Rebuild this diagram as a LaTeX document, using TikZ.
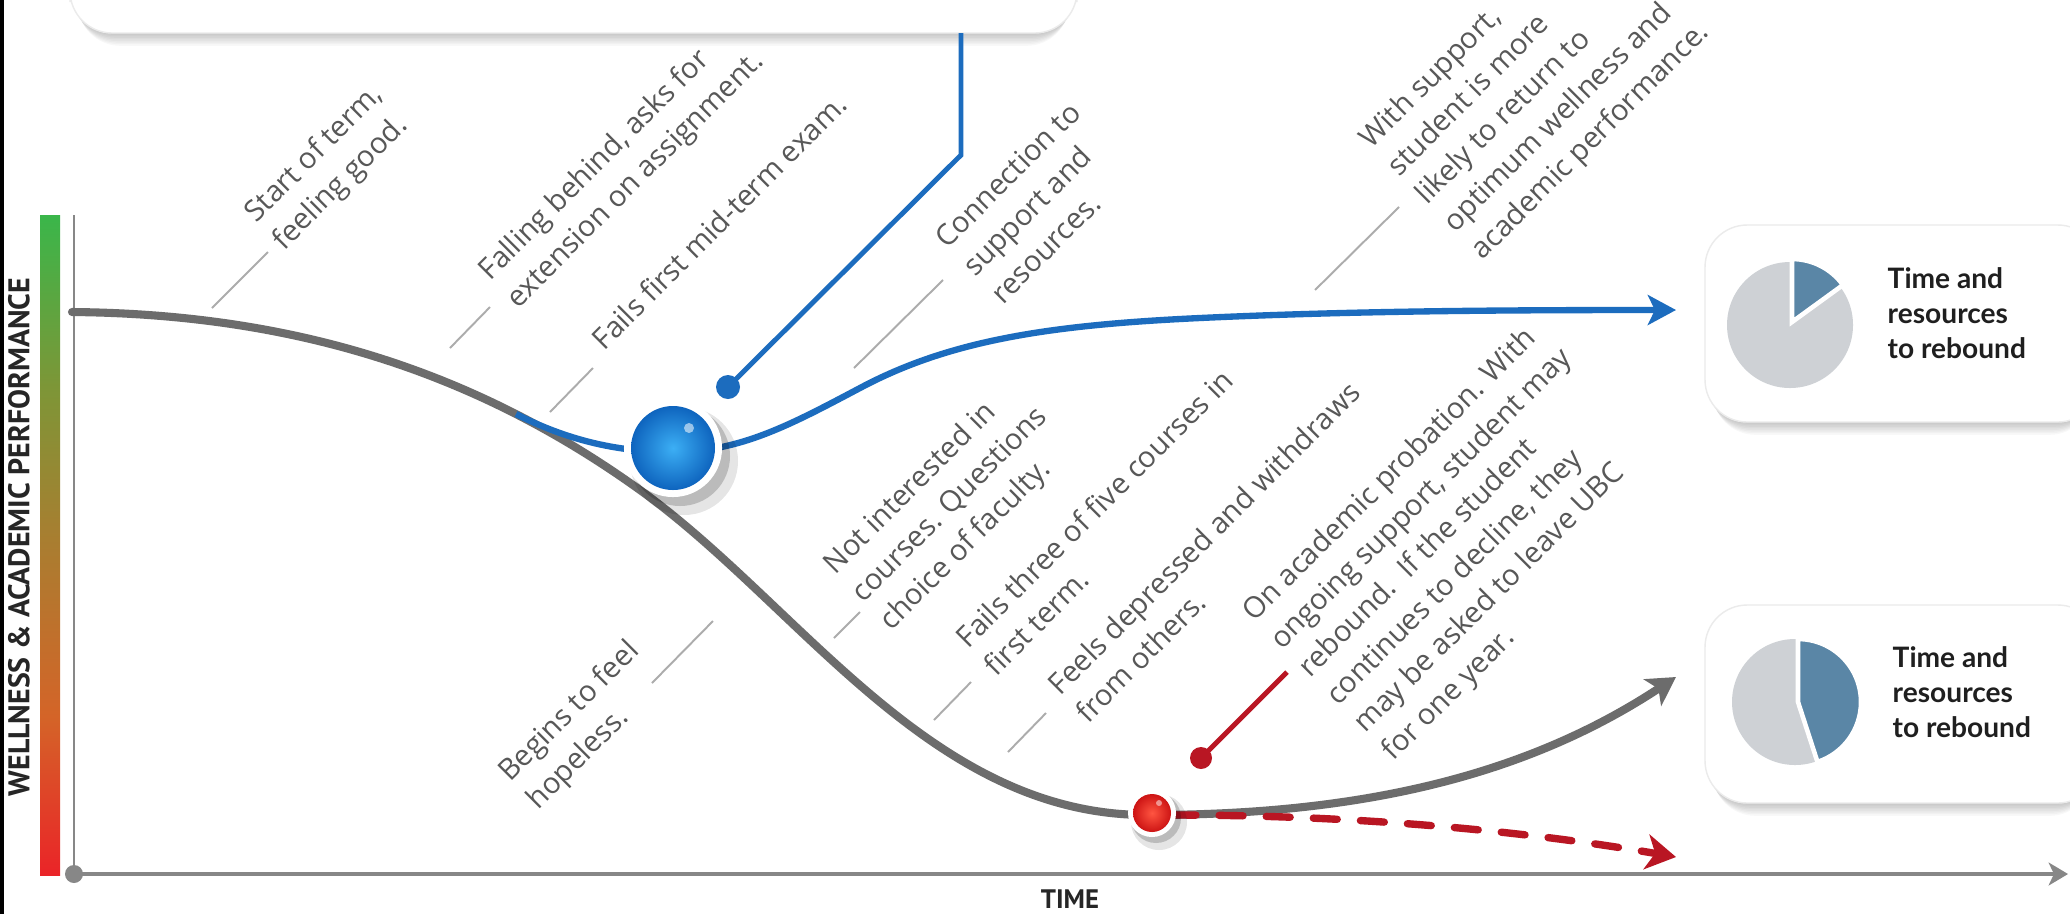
\documentclass[tikz,border=0pt]{standalone}
\usepackage{fontspec}
\setmainfont{Open Sans}
\newfontfamily\lblfamily{Open Sans}
\newfontfamily\boxfamily{Lato}
\newfontfamily\axfamily{PT Sans}
\usetikzlibrary{arrows.meta}
\definecolor{lblgray}{RGB}{88,88,88}
\definecolor{leadgray}{RGB}{172,172,172}
\definecolor{curvegray}{RGB}{108,108,108}
\definecolor{axisgray}{RGB}{135,135,135}
\definecolor{bluepath}{RGB}{28,108,190}
\definecolor{redpath}{RGB}{185,22,35}
\definecolor{pieblue}{RGB}{90,134,166}
\definecolor{piegray}{RGB}{206,209,213}
\definecolor{barred}{RGB}{234,36,40}
\definecolor{barorange}{RGB}{212,100,40}
\definecolor{barbrown}{RGB}{170,125,48}
\definecolor{barolive}{RGB}{125,150,55}
\definecolor{bargreen}{RGB}{58,182,74}
\definecolor{bballhi}{RGB}{60,175,245}
\definecolor{bballlo}{RGB}{14,100,190}
\definecolor{rballhi}{RGB}{255,85,65}
\definecolor{rballlo}{RGB}{205,20,20}
\pgfdeclareverticalshading{wellbar}{100bp}{color(0bp)=(barred); color(25bp)=(barred); color(37bp)=(barorange); color(50bp)=(barbrown); color(62bp)=(barolive); color(75bp)=(bargreen); color(100bp)=(bargreen)}
\newcommand\mlines[1]{\begin{tabular}[t]{@{}l@{}}#1\end{tabular}}
\newcommand\boxshadow[4]{\foreach \k in {1,...,8}{\fill[black,opacity=0.028,rounded corners=12] ({#1+\k},{#2+2*\k}) rectangle ({#3-\k},{#4+1.6*\k});}}
\tikzset{
  lbl/.style={rotate=45, anchor=base west, inner sep=0pt, text=lblgray, font=\lblfamily\fontsize{8.3}{11.2}\selectfont},
  leader/.style={draw=leadgray, line width=0.55pt},
  boxtxt/.style={anchor=base west, inner sep=0pt, text=black!88, font=\boxfamily\bfseries\fontsize{8}{10}\selectfont},
  axlbl/.style={inner sep=0pt, text=black!85, font=\axfamily\bfseries\fontsize{8.5}{9}\selectfont},
  card/.style={fill=white, draw=black!8, line width=0.4pt, rounded corners=12},
}
\begin{document}
\begin{tikzpicture}[x=0.01cm, y=-0.01cm]
\useasboundingbox (0,0) rectangle (2070,914);
\fill[white] (0,0) rectangle (2070,914);
\fill[black] (0,0) rectangle (4,914);

% ---------- cards ----------
\boxshadow{70}{-40}{1077}{33}
\draw[card] (70,-40) rectangle (1077,33);
\boxshadow{1705}{225}{2100}{422}
\draw[card] (1705,225) rectangle (2100,422);
\boxshadow{1705}{605}{2100}{803}
\draw[card] (1705,605) rectangle (2100,803);

% pies
\fill[piegray] (1790,325) circle (63);
\filldraw[fill=pieblue, draw=white, line width=1.3pt] (1792,322) -- ++(-90:63) arc[start angle=-90, end angle=-36, radius=63] -- cycle;
\fill[piegray] (1795,702) circle (63);
\filldraw[fill=pieblue, draw=white, line width=1.3pt] (1798,702) -- ++(-90:63) arc[start angle=-90, end angle=72, radius=63] -- cycle;
\node[boxtxt] (rb1) at (1887,288) {\mlines{Time and\\resources\\to rebound}};
\node[boxtxt] (rb2) at (1892,667) {\mlines{Time and\\resources\\to rebound}};

% ---------- axes ----------
\shade[shading=wellbar] (40,215) rectangle (60,875);
\coordinate (O) at (74,874);
\coordinate (ytop) at (74,215);
\coordinate (xend) at (2068,874);
\draw[axisgray, line width=0.85pt] (O) -- (ytop);
\draw[axisgray, line width=0.95pt, -{Stealth[length=5.5pt,width=6.5pt,inset=1.5pt]}] (O) -- (xend);
\fill[axisgray] (O) circle (9);
\node[axlbl, rotate=90] (ylab) at (19,537) {WELLNESS \& ACADEMIC PERFORMANCE};
\node[axlbl, font=\axfamily\bfseries\fontsize{7.6}{8}\selectfont] (xlab) at (1070,899) {TIME};

% ---------- labels and leaders ----------
\node[lbl] (l1) at (256,224) {\mlines{Start of term,\\feeling good.}};
\node[lbl] (l2) at (490,282) {\mlines{Falling behind, asks for\\extension on assignment.}};
\node[lbl] (l3) at (604,352) {Fails first mid-term exam.};
\node[lbl] (l4) at (947,250) {\mlines{Connection to\\support and\\resources.}};
\node[lbl] (l5) at (1371,150) {\mlines{With support,\\student is more\\likely to return to\\optimum wellness and\\academic performance.}};
\node[lbl] (l6) at (835,576) {\mlines{Not interested in\\courses. Questions\\choice of faculty.}};
\node[lbl] (l7) at (968,650) {\mlines{Fails three of five courses in\\first term.}};
\node[lbl] (l8) at (1060,697) {\mlines{Feels depressed and withdraws\\from others.}};
\node[lbl] (l9) at (1254,623) {\mlines{On academic probation. With\\ongoing support, student may\\rebound.\ \ If the student\\continues to decline, they\\may be asked to leave UBC\\for one year.}};
\node[lbl] (l10) at (510,783) {\mlines{Begins to feel\\hopeless.}};

\coordinate (a1) at (212,308); \coordinate (b1) at (268,252);
\coordinate (a2) at (450,348); \coordinate (b2) at (490,307);
\coordinate (a3) at (550,412); \coordinate (b3) at (593,368);
\coordinate (a4) at (854,368); \coordinate (b4) at (943,280);
\coordinate (a5) at (1315,290); \coordinate (b5) at (1399,207);
\coordinate (a6) at (834,638); \coordinate (b6) at (860,612);
\coordinate (a7) at (934,720); \coordinate (b7) at (971,682);
\coordinate (a8) at (1008,752); \coordinate (b8) at (1046,713);
\coordinate (a10) at (652,683); \coordinate (b10) at (713,621);
\foreach \i in {1,2,3,4,5,6,7,8,10}{\draw[leader] (a\i) -- (b\i);}

% ---------- curves ----------
\coordinate (g0) at (72,312);
\coordinate (g1) at (640,490);
\coordinate (g2) at (1147,815);
\coordinate (g3) at (1676,677);
\draw[curvegray, line width=2.3pt, line cap=round, -{Stealth[length=8pt,width=9pt,inset=2pt]}]
  (g0) .. controls (300,314) and (480,375) .. (g1)
       .. controls (800,605) and (930,815) .. (g2)
       .. controls (1350,815) and (1520,780) .. (g3);

\coordinate (bl0) at (516,414);
\coordinate (bl1) at (673,452);
\coordinate (bl2) at (860,388);
\coordinate (bl3) at (1200,318);
\coordinate (bl4) at (1676,310);
\draw[bluepath, line width=1.8pt, -{Stealth[length=8pt,width=8.5pt,inset=2pt]}]
  (bl0) .. controls (565,439) and (615,452) .. (bl1)
        .. controls (740,452) and (790,425) .. (bl2)
        .. controls (950,340) and (1050,325) .. (bl3)
        .. controls (1350,311) and (1500,310) .. (bl4);

\coordinate (rd0) at (1172,815);
\coordinate (rd1) at (1676,857);
\draw[redpath, line width=2.1pt, line cap=round, dash pattern=on 6.8pt off 6.6pt, -{Stealth[length=8.5pt,width=10pt,inset=2.5pt]}]
  (rd0) .. controls (1350,815) and (1520,830) .. (rd1);

% ---------- pins ----------
\coordinate (bpin) at (728,387);
\coordinate (bbend) at (961,155);
\coordinate (btop) at (961,33);
\draw[bluepath, line width=1.4pt] (bpin) -- (bbend) -- (btop);
\fill[bluepath] (bpin) circle (12);

\coordinate (rpin) at (1201,758);
\coordinate (rpinend) at (1287,672);
\draw[redpath, line width=1.4pt] (rpin) -- (rpinend);
\fill[redpath] (rpin) circle (11);

% ---------- balls ----------
\fill[black, opacity=0.10] (684,461) circle (54);
\fill[black, opacity=0.18] (680,456) circle (50);
\node[circle, fill=white, minimum size=0.98cm, inner sep=0pt] (bball) at (673,448) {};
\shade[inner color=bballhi, outer color=bballlo] (673,448) circle (42);
\fill[white, opacity=0.55] (689,428) circle (5);

\fill[black, opacity=0.10] (1159,822) circle (28);
\fill[black, opacity=0.18] (1156,818) circle (25);
\node[circle, fill=white, minimum size=0.48cm, inner sep=0pt] (rball) at (1152,813) {};
\shade[inner color=rballhi, outer color=rballlo] (1152,813) circle (19);
\fill[white, opacity=0.5] (1159,803) circle (3);
\end{tikzpicture}
\end{document}
